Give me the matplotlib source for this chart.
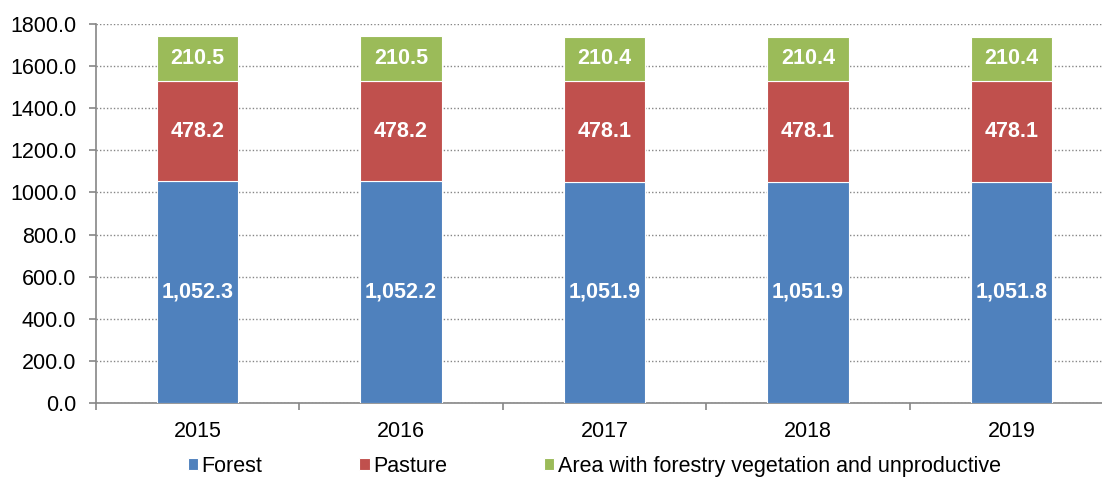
import numpy as np
import matplotlib.pyplot as plt

plt.rcParams['font.family'] = ['Liberation Sans', 'DejaVu Sans']

years = ["2015", "2016", "2017", "2018", "2019"]
forest = [1052.3, 1052.2, 1051.9, 1051.9, 1051.8]
pasture = [478.2, 478.2, 478.1, 478.1, 478.1]
other = [210.5, 210.5, 210.4, 210.4, 210.4]

labels = ["Forest", "Pasture", "Area with forestry vegetation and unproductive"]
colors = ["#4f81bd", "#c0504d", "#9bbb59"]

fs = 15.5

fig = plt.figure(figsize=(11.02, 4.78), dpi=100)
ax = fig.add_axes([95.75 / 1102, 1 - 403 / 478, 1017.5 / 1102, 379 / 478])

x = np.arange(len(years))
w = 0.4
bottom = np.zeros(len(years))
for vals, lab, col in zip([forest, pasture, other], labels, colors):
    ax.bar(x, vals, w, bottom=bottom, color=col, edgecolor="white",
           linewidth=0.8, label=lab, zorder=3)
    for xi, b, v in zip(x, bottom, vals):
        ax.text(xi, b + v / 2, f"{v:,.1f}", ha="center", va="center",
                color="white", fontsize=fs, fontweight="bold", zorder=4)
    bottom += np.array(vals)

ax.set_xlim(-0.5, len(years) - 0.5)
ax.set_ylim(0, 1800)
ax.set_yticks(np.arange(0, 1801, 200))
ax.set_yticklabels([f"{t:.1f}" for t in np.arange(0, 1801, 200)])
ax.set_xticks(x)
ax.set_xticklabels(years)
ax.set_xticks(np.arange(-0.5, len(years), 1), minor=True)
ax.tick_params(axis="x", which="major", length=0, pad=13, labelsize=fs)
ax.tick_params(axis="x", which="minor", length=5, color="#868686", width=1.2)
ax.tick_params(axis="y", length=5, color="#868686", width=1.2, labelsize=fs, pad=9)
ax.yaxis.grid(True, linestyle=(0, (1, 1.5)), color="#868686", linewidth=1, zorder=0)

for s in ["top", "right"]:
    ax.spines[s].set_visible(False)
for s in ["left", "bottom"]:
    ax.spines[s].set_color("#868686")
    ax.spines[s].set_linewidth(1.2)

fig.legend(loc="center", bbox_to_anchor=(0.5395, 0.025), ncol=3,
           frameon=False, fontsize=fs, handlelength=0.47, handleheight=0.47,
           handletextpad=0.18, columnspacing=4.5)

fig.savefig("out.png", dpi=100)
